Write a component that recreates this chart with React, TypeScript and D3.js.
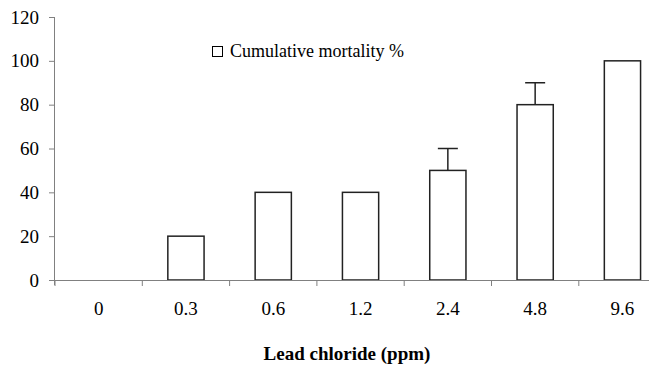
import React from "react";
import * as d3 from "d3";

const categories = ["0", "0.3", "0.6", "1.2", "2.4", "4.8", "9.6"];
const mortality = [0, 20, 40, 40, 50, 80, 100];
const errorUp = [0, 0, 0, 0, 10, 10, 0];
const yTicks = [0, 20, 40, 60, 80, 100, 120];
const legendLabel = "Cumulative mortality %";
const xTitle = "Lead chloride (ppm)";

const W = 649;
const H = 367;
const left = 55;
const bandW = 87.3;
const font = "'Liberation Serif', 'Times New Roman', Times, serif";

export default function App() {
  const x = d3
    .scaleBand<string>()
    .domain(categories)
    .range([left, left + bandW * categories.length])
    .paddingInner(0.585)
    .paddingOuter(0.2925);
  const y = d3.scaleLinear().domain([0, 120]).range([280, 17]);
  const axisColor = "#808080";
  const tickEdges = categories.map((c, i) => left + i * bandW);
  const ts = { fontFamily: font };

  return (
    <svg
      width={W}
      height={H}
      style={{ position: "absolute", left: 0, top: 0, background: "#fff", fontFamily: font }}
    >
      {/* y axis */}
      <line x1={54.5} x2={54.5} y1={y(120)} y2={y(0) + 5} stroke={axisColor} />
      {yTicks.map((t) => (
        <g key={t}>
          <line x1={49} x2={54.5} y1={y(t) + 0.5} y2={y(t) + 0.5} stroke={axisColor} />
          <text x={39} y={y(t)} dy="0.35em" textAnchor="end" fontSize={19} fill="#000" style={ts}>
            {t}
          </text>
        </g>
      ))}
      {/* bars */}
      {categories.map((c, i) => {
        const bx = x(c)!;
        const bw = x.bandwidth();
        const top = y(mortality[i]);
        const cx = bx + bw / 2;
        return (
          <g key={c}>
            {errorUp[i] > 0 && (
              <g stroke="#222" strokeWidth={1.5}>
                <line x1={cx} x2={cx} y1={top} y2={y(mortality[i] + errorUp[i])} />
                <line
                  x1={cx - 10}
                  x2={cx + 10}
                  y1={y(mortality[i] + errorUp[i])}
                  y2={y(mortality[i] + errorUp[i])}
                />
              </g>
            )}
            {mortality[i] > 0 && (
              <rect
                x={bx}
                y={top}
                width={bw}
                height={y(0) - top}
                fill="#fff"
                stroke="#222"
                strokeWidth={1.5}
              />
            )}
          </g>
        );
      })}
      {/* x axis */}
      <line x1={54} x2={W} y1={280.5} y2={280.5} stroke={axisColor} />
      {tickEdges.map((tx, i) => (
        <line key={i} x1={tx} x2={tx} y1={280.5} y2={286} stroke={axisColor} />
      ))}
      {categories.map((c) => (
        <text
          key={c}
          x={x(c)! + x.bandwidth() / 2}
          y={315}
          textAnchor="middle"
          fontSize={19}
          fill="#000"
          style={ts}
        >
          {c}
        </text>
      ))}
      <text x={347} y={360} textAnchor="middle" fontSize={19} fontWeight="bold" fill="#000" style={ts}>
        {xTitle}
      </text>
      {/* legend */}
      <rect x={212.5} y={46.5} width={10} height={10} fill="#fff" stroke="#000" strokeWidth={1} />
      <text x={230} y={57} fontSize={18} fill="#000" style={ts}>
        {legendLabel}
      </text>
    </svg>
  );
}
